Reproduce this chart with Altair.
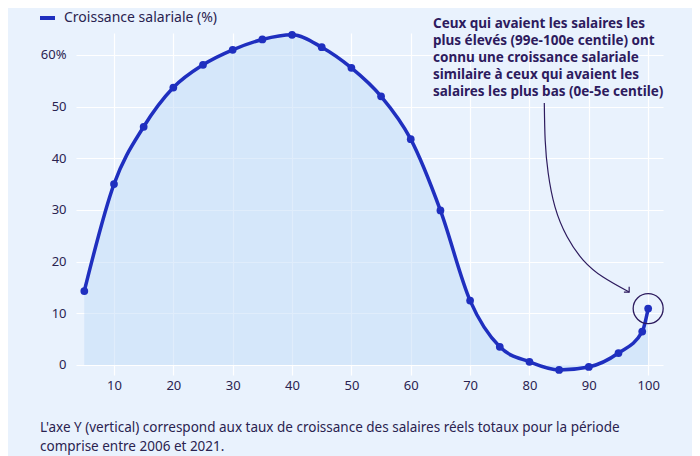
import altair as alt
import pandas as pd

# centile -> croissance salariale (%)
centiles = [5, 10, 15, 20, 25, 30, 35, 40, 45, 50, 55, 60, 65, 70, 75, 80, 85, 90, 95, 99, 100]
croissance = [14.3, 35.0, 46.1, 53.7, 58.1, 61.0, 63.0, 63.9, 61.5, 57.5, 52.0, 43.7, 29.9,
              12.45, 3.5, 0.6, -0.97, -0.39, 2.3, 6.45, 10.9]

x_ticks = [10, 20, 30, 40, 50, 60, 70, 80, 90, 100]
y_ticks = [0, 10, 20, 30, 40, 50, 60]

legend_label = "Croissance salariale (%)"
annotation_lines = [
    "Ceux qui avaient les salaires les",
    "plus élevés (99e-100e centile) ont",
    "connu une croissance salariale",
    "similaire à ceux qui avaient les",
    "salaires les plus bas (0e-5e centile)",
]
footnote_lines = [
    "L'axe Y (vertical) correspond aux taux de croissance des salaires réels totaux pour la période",
    "comprise entre 2006 et 2021.",
]

# annotation arrow path, in data units
arrow_x = [82.5, 82.65, 83.15, 84.3, 86.35, 89.05, 92.4, 96.8]
arrow_y = [50.7, 43.5, 37.2, 30.6, 24.8, 20.3, 17.0, 14.1]

LINE = "#1f2fbf"
TEXT = "#2a2350"
ANNOT = "#2d1b5e"
BG = "#e9f2fd"
FONT = "Noto Sans"

df = pd.DataFrame({"centile": centiles, "croissance": croissance})
arrow = pd.DataFrame({"x": arrow_x, "y": arrow_y, "order": range(len(arrow_x))})
tip = arrow.tail(1)
highlight = df.tail(1)
notes = pd.DataFrame({"line": annotation_lines, "row": range(len(annotation_lines))})

x_scale = alt.Scale(domain=[3.6, 102.5], nice=False, zero=False)
y_scale = alt.Scale(domain=[-1.95, 64.25], nice=False, zero=False)

x_enc = alt.X(
    "centile:Q", scale=x_scale, title=None,
    axis=alt.Axis(values=x_ticks, domain=False, ticks=False, labelPadding=4,
                  gridColor="white", gridWidth=1.2, labelFontSize=13,
                  labelColor=TEXT, labelFont=FONT),
)
y_enc = alt.Y(
    "croissance:Q", scale=y_scale, title=None,
    axis=alt.Axis(values=y_ticks, domain=False, ticks=False, labelPadding=10,
                  gridColor="white", gridWidth=1.2, labelFontSize=13,
                  labelColor=TEXT, labelFont=FONT,
                  labelExpr="datum.value == 60 ? '60%' : datum.label"),
)

base = alt.Chart(df)

area = base.mark_area(interpolate="monotone", color="#c2dcf8", opacity=0.5).encode(
    x=x_enc, y=y_enc, y2=alt.datum(0)
)
line = base.mark_line(interpolate="monotone", color=LINE, strokeWidth=3.5).encode(
    x="centile:Q", y="croissance:Q"
)
points = base.mark_circle(color=LINE, size=60, opacity=1).encode(
    x="centile:Q", y="croissance:Q"
)

arrow_line = alt.Chart(arrow).mark_line(
    interpolate="natural", color=ANNOT, strokeWidth=1.2
).encode(
    x=alt.X("x:Q", scale=x_scale), y=alt.Y("y:Q", scale=y_scale), order="order:Q"
)
arrow_head = alt.Chart(tip).mark_point(
    shape="M -1 0 L 0 0 L 0 -1", filled=False, size=110, color=ANNOT, strokeWidth=1.2,
    opacity=1
).encode(x=alt.X("x:Q", scale=x_scale), y=alt.Y("y:Q", scale=y_scale))

ring = alt.Chart(highlight).mark_point(
    shape="circle", filled=False, size=900, color=ANNOT, strokeWidth=1.3, opacity=1
).encode(x="centile:Q", y="croissance:Q")

# one text mark per annotation line, stacked with a row offset
annotation = alt.Chart(notes).transform_calculate(
    ypix="-9 + datum.row * 17"
).mark_text(
    align="left", baseline="middle", font=FONT, fontSize=13.5,
    fontWeight="bold", color=ANNOT
).encode(x=alt.value(357), y=alt.Y("ypix:Q", scale=None), text="line:N")

legend_swatch = alt.Chart(df.head(1)).mark_rule(color=LINE, strokeWidth=4).encode(
    x=alt.value(-36), x2=alt.value(-21), y=alt.value(-15)
)
legend_text = alt.Chart(df.head(1)).mark_text(
    text=legend_label, align="left", baseline="middle", font=FONT, fontSize=14,
    color=TEXT
).encode(x=alt.value(-12), y=alt.value(-15))

footnote = alt.Chart(df.head(1)).mark_text(
    text=footnote_lines, align="left", baseline="middle", font=FONT, fontSize=13.5,
    color=TEXT, lineHeight=19
).encode(x=alt.value(-36), y=alt.value(395))

chart = (
    alt.layer(area, line, points, arrow_line, arrow_head, ring, annotation,
              legend_swatch, legend_text, footnote)
    .properties(
        width=587, height=342,
        autosize=alt.AutoSizeParams(type="none"),
        padding={"left": 68, "top": 25, "right": 29, "bottom": 81},
        background=BG,
    )
    .configure_view(stroke=None)
)

chart.save("out.html", embed_options={"renderer": "svg", "actions": False})
